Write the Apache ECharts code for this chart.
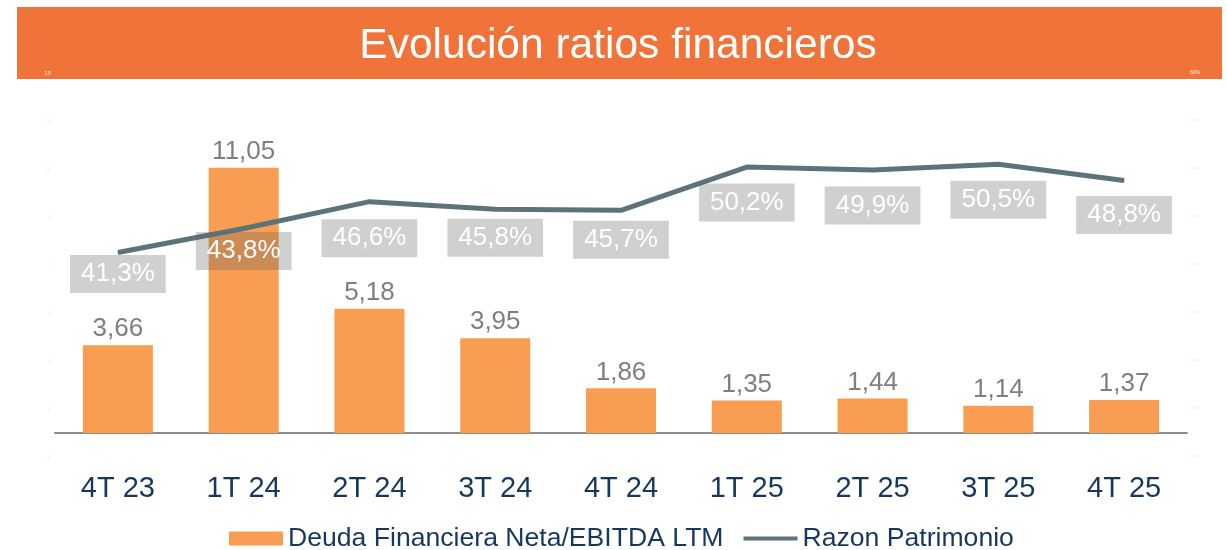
<!DOCTYPE html>
<html>
<head>
<meta charset="utf-8">
<script src="https://cdn.jsdelivr.net/npm/echarts@6/dist/echarts.min.js"></script>
<style>
  html, body { margin: 0; padding: 0; background: #fff; }
  #chart { width: 1227px; height: 550px; }
</style>
</head>
<body>
<div id="chart"></div>
<script>
const categories = ['4T 23', '1T 24', '2T 24', '3T 24', '4T 24', '1T 25', '2T 25', '3T 25', '4T 25'];
const deudaEbitda = [3.66, 11.05, 5.18, 3.95, 1.86, 1.35, 1.44, 1.14, 1.37];
const razonPatrimonio = [41.3, 43.8, 46.6, 45.8, 45.7, 50.2, 49.9, 50.5, 48.8];

// how far below each line point its percentage box sits (px)
const labelDrop = [2, 3, 17, 9, 10, 16, 16, 16, 15];

const FONT = '"Liberation Sans", Arial, sans-serif';
const comma = (v, d) => v.toFixed(d).replace('.', ',');

const chart = echarts.init(document.getElementById('chart'));

const option = {
    animation: false,
    textStyle: { fontFamily: FONT },
    graphic: [{
        type: 'rect',
        shape: { x: 17, y: 7, width: 1205, height: 72 },
        style: { fill: '#F07339' },
        z: -10,
    }],
    title: {
        text: 'Evolución ratios financieros',
        left: 613,
        textAlign: 'center',
        top: 20,
        textStyle: { color: '#fff', fontSize: 42.5, fontWeight: 'normal', fontFamily: FONT },
    },
    legend: {
        top: 520,
        left: 224,
        itemWidth: 54,
        itemHeight: 14,
        itemGap: 18,
        textStyle: { color: '#17375E', fontSize: 26.6, fontFamily: FONT },
        data: [
            { name: 'Deuda Financiera Neta/EBITDA LTM', icon: 'rect' },
            { name: 'Razon Patrimonio', itemStyle: { opacity: 0 }, lineStyle: { width: 4 } },
        ],
    },
    grid: { left: 55, right: 40, top: 73, bottom: 93 },
    xAxis: {
        type: 'category',
        data: categories,
        axisLine: { onZero: true, lineStyle: { color: '#8C8C8C', width: 2 } },
        axisTick: { show: false },
        axisLabel: { color: '#17375E', fontSize: 29, margin: 17, fontFamily: FONT },
    },
    yAxis: [{
        type: 'value',
        min: -1,
        max: 15,
        interval: 2,
        alignTicks: false,
        splitLine: { show: false },
        axisLine: { show: false },
        axisLabel: { color: '#F3ECE6', fontSize: 6, margin: 4 },
    }, {
        type: 'value',
        min: 20,
        max: 60,
        interval: 5,
        alignTicks: false,
        splitLine: { show: false },
        axisLine: { show: false },
        axisLabel: { color: '#F0F0F0', fontSize: 5, margin: 3, formatter: '{value}%' },
    }],
    series: [{
        name: 'Deuda Financiera Neta/EBITDA LTM',
        type: 'bar',
        data: deudaEbitda,
        barWidth: 70,
        itemStyle: { color: '#F89D51' },
        label: {
            show: true,
            position: 'top',
            distance: 3,
            color: '#7F7F7F',
            fontSize: 26,
            fontFamily: FONT,
            formatter: (p) => comma(p.value, 2),
        },
        z: 2,
    }, {
        name: 'Razon Patrimonio',
        type: 'line',
        yAxisIndex: 1,
        data: razonPatrimonio.map((v, i) => ({
            value: v,
            label: { distance: labelDrop[i] },
        })),
        symbol: 'circle',
        symbolSize: 1,
        itemStyle: { color: '#5E7379' },
        lineStyle: { color: '#5E7379', width: 5 },
        label: {
            show: true,
            position: 'bottom',
            color: '#fff',
            fontSize: 26,
            fontFamily: FONT,
            backgroundColor: 'rgba(100,100,100,0.3)',
            padding: [6, 11, 6, 11],
            formatter: (p) => comma(p.value, 1) + '%',
        },
        z: 3,
    }],
};

chart.setOption(option);
window.addEventListener('resize', chart.resize);
</script>
</body>
</html>
